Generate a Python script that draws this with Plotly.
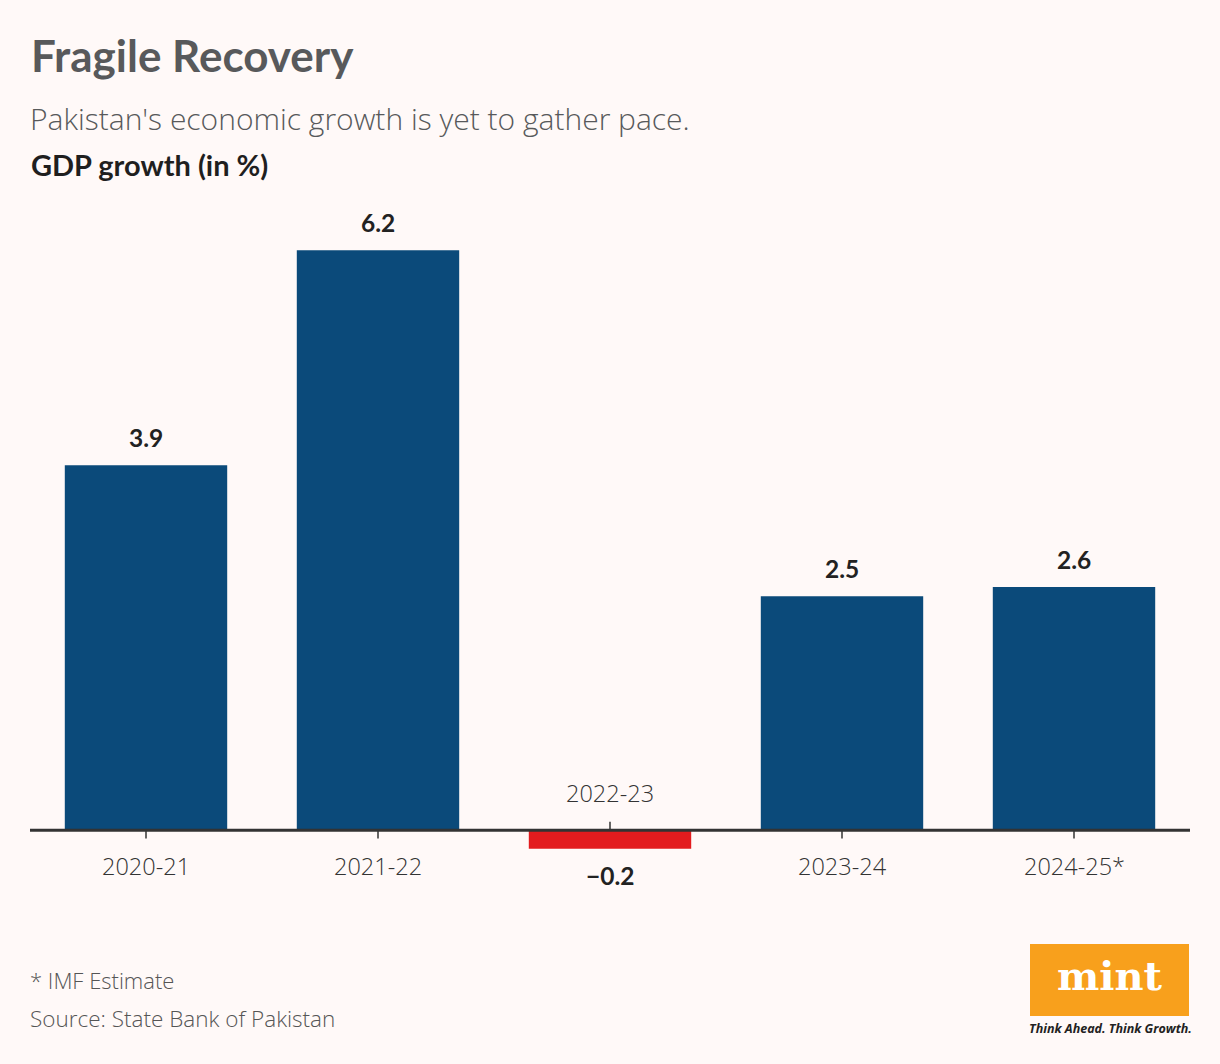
import plotly.graph_objects as go

years = ["2020-21", "2021-22", "2022-23", "2023-24", "2024-25*"]
growth = [3.9, 6.2, -0.2, 2.5, 2.6]
value_labels = ["3.9", "6.2", "\u22120.2", "2.5", "2.6"]

BG = "#fff9f8"
BLUE = "#0b4a7a"
RED = "#e31b1e"

W, H = 1220, 1064
ML, MR, MT, MB = 30, 30, 194, 159
PW, PH = W - ML - MR, H - MT - MB


def px(x):
    return (x - ML) / PW


def py(y):
    return (H - MB - y) / PH


colors = [RED if v < 0 else BLUE for v in growth]

fig = go.Figure(go.Bar(
    x=years, y=growth, marker=dict(color=colors, line=dict(width=0)),
    width=0.7, hoverinfo="skip",
))

annotations = []
shapes = []
for yr, v, lab in zip(years, growth, value_labels):
    pos = v >= 0
    annotations.append(dict(
        x=yr, y=v, xref="x", yref="y", text=lab, showarrow=False,
        yanchor="bottom" if pos else "top", yshift=11 if pos else -10,
        font=dict(family="Lato", size=24.5, color="#222222", weight="bold"),
    ))
    annotations.append(dict(
        x=yr, y=0, xref="x", yref="y", text=yr, showarrow=False,
        yanchor="middle", yshift=-36 if pos else 37,
        font=dict(family="Open Sans", size=23.5, color="#333333", weight=300),
    ))
    shapes.append(dict(
        type="line", xref="x", yref="y", x0=yr, x1=yr,
        y0=0, y1=-0.09 if pos else 0.09,
        line=dict(color="#333333", width=1.5),
    ))

# baseline
shapes.append(dict(type="line", xref="paper", yref="y", x0=0, x1=1, y0=0, y1=0,
                   line=dict(color="#333333", width=3), layer="above"))

# mint logo box
shapes.append(dict(type="rect", xref="paper", yref="paper",
                   x0=px(1030), x1=px(1189), y0=py(1016), y1=py(944),
                   fillcolor="#f8a01c", line=dict(width=0)))

annotations += [
    dict(x=px(29), y=py(55), xref="paper", yref="paper", xanchor="left", yanchor="middle",
         text="Fragile Recovery", showarrow=False,
         font=dict(family="Lato", size=44, color="#58595b", weight="bold")),
    dict(x=px(28), y=py(119), xref="paper", yref="paper", xanchor="left", yanchor="middle",
         text="Pakistan's economic growth is yet to gather pace.", showarrow=False,
         font=dict(family="Open Sans", size=30, color="#58595b", weight=300)),
    dict(x=px(29), y=py(165), xref="paper", yref="paper", xanchor="left", yanchor="middle",
         text="GDP growth (in %)", showarrow=False,
         font=dict(family="Lato", size=29, color="#1f1f1f", weight="bold")),
    dict(x=px(28), y=py(980), xref="paper", yref="paper", xanchor="left", yanchor="middle",
         text="* IMF Estimate", showarrow=False,
         font=dict(family="Open Sans", size=22, color="#555555", weight=300)),
    dict(x=px(28), y=py(1018), xref="paper", yref="paper", xanchor="left", yanchor="middle",
         text="Source: State Bank of Pakistan", showarrow=False,
         font=dict(family="Open Sans", size=22.5, color="#555555", weight=300)),
    dict(x=px(1109.5), y=py(975), xref="paper", yref="paper", xanchor="center", yanchor="middle",
         text="mint", showarrow=False,
         font=dict(family="DejaVu Serif", size=40, color="#ffffff", weight="bold")),
    dict(x=px(1110), y=py(1028), xref="paper", yref="paper", xanchor="center", yanchor="middle",
         text="<i>Think Ahead. Think Growth.</i>", showarrow=False,
         font=dict(family="Open Sans", size=12.5, color="#222222", weight="bold")),
]

fig.update_layout(
    width=W, height=H,
    margin=dict(l=ML, r=MR, t=MT, b=MB, pad=0),
    paper_bgcolor=BG, plot_bgcolor=BG,
    showlegend=False,
    bargap=0.3,
    xaxis=dict(visible=False, showgrid=False, range=[-0.5, 4.5], fixedrange=True),
    yaxis=dict(visible=False, showgrid=False, zeroline=False, range=[-0.8, 6.8], fixedrange=True),
    annotations=annotations, shapes=shapes,
)

fig.write_html(
    "out.html",
    config={"displayModeBar": False},
    post_script="document.body.style.margin='0';document.body.style.background='%s';" % BG,
)
